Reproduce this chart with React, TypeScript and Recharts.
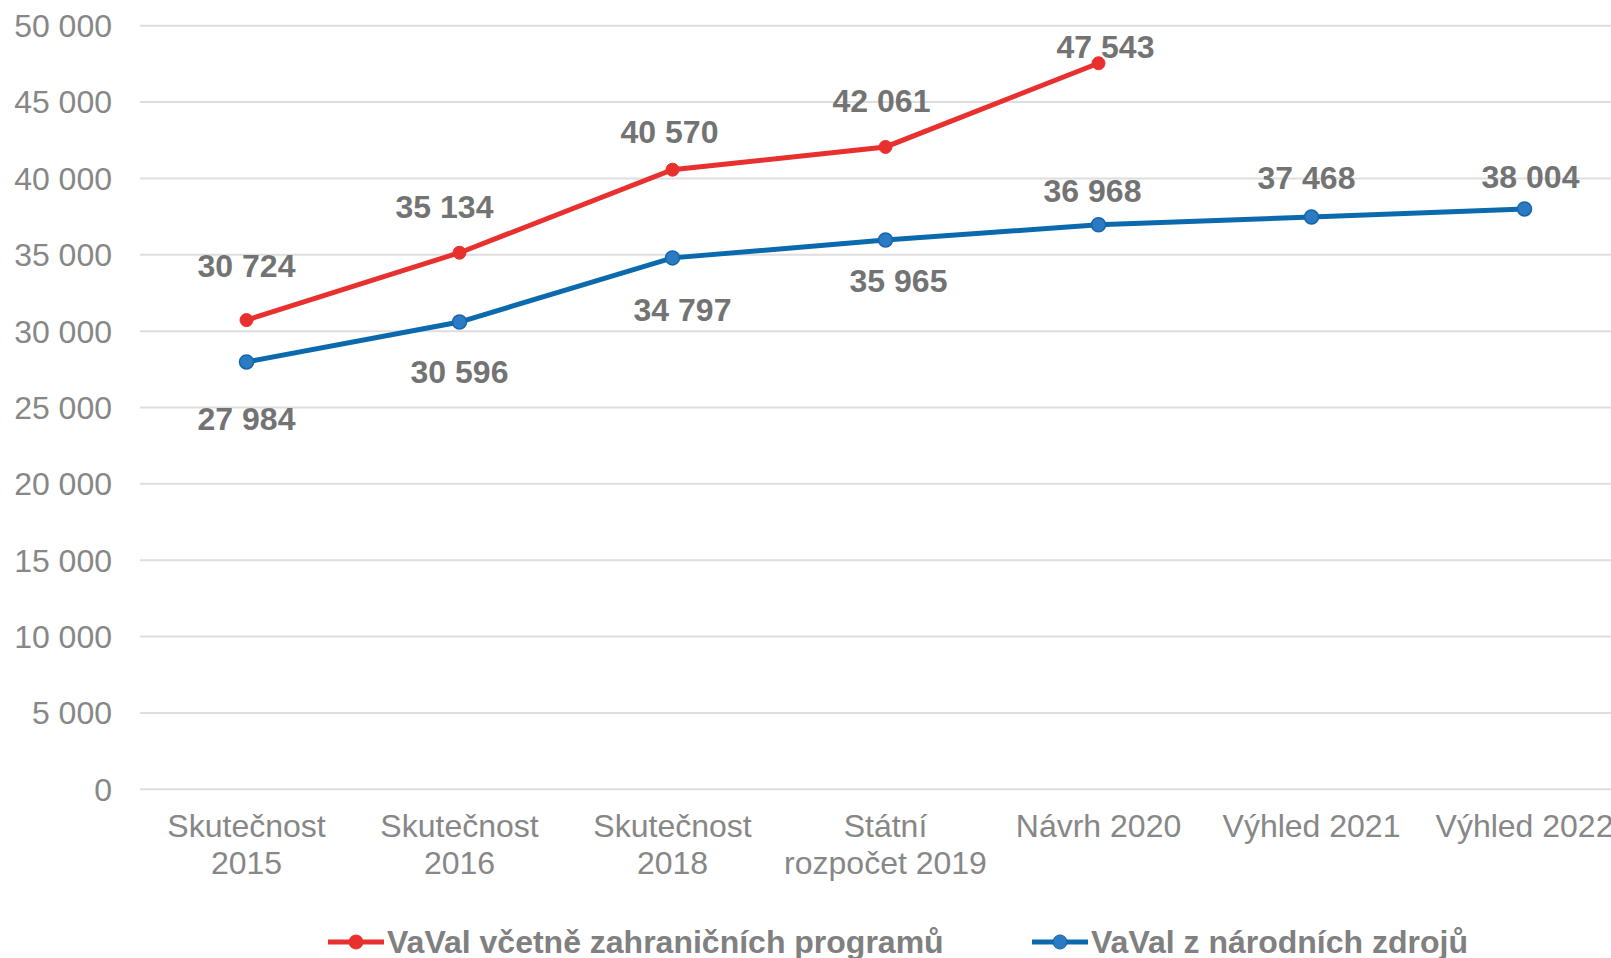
import React from 'react';
import { LineChart, Line, XAxis, YAxis, CartesianGrid, Legend, LabelList } from 'recharts';

const categories = [
  'Skutečnost\n2015',
  'Skutečnost\n2016',
  'Skutečnost\n2018',
  'Státní\nrozpočet 2019',
  'Návrh 2020',
  'Výhled 2021',
  'Výhled 2022',
];
const foreignSeries = [30724, 35134, 40570, 42061, 47543, null, null];
const nationalSeries = [27984, 30596, 34797, 35965, 36968, 37468, 38004];
const yTicks = [0, 5000, 10000, 15000, 20000, 25000, 30000, 35000, 40000, 45000, 50000];
const seriesNames = ['VaVal včetně zahraničních programů', 'VaVal z národních zdrojů'];

// label nudges relative to each point [dx, dy]
const redLabelOffsets = [[0, -55], [-15, -46], [-3, -38], [-4, -46], [7, -17]];
const blueLabelOffsets = [[0, 57], [0, 49], [10, 52], [13, 40], [-6, -34], [-5, -40], [6, -32]];

const data = categories.map((c, i) => ({
  cat: c,
  foreign: foreignSeries[i],
  national: nationalSeries[i],
}));

const FONT = '"Liberation Sans", Arial, sans-serif';
const RED = '#E8312F';
const BLUE_LINE = '#0B6AAE';
const BLUE_DOT = '#2B7BC4';

const fmt = (v: number) => String(v).replace(/\B(?=(\d{3})+(?!\d))/g, ' ');

const XTick = (props: any) => {
  const { x, y, payload } = props;
  const lines = String(payload.value).split('\n');
  return (
    <text x={x} y={y + 48} textAnchor="middle" fill="#878787" fontSize={32} fontFamily={FONT}>
      {lines.map((l, i) => (
        <tspan key={i} x={x} dy={i === 0 ? 0 : 37}>{l}</tspan>
      ))}
    </text>
  );
};

const makeLabel = (offsets: number[][]) => (props: any) => {
  const { x, y, value, index } = props;
  if (value == null || x == null || y == null) return null;
  const off = offsets[index] || [0, -30];
  return (
    <text
      x={x + off[0]}
      y={y + off[1]}
      dy="0.36em"
      textAnchor="middle"
      fill="#737373"
      fontSize={32}
      fontWeight="bold"
      fontFamily={FONT}
    >
      {fmt(value)}
    </text>
  );
};

const LegendContent = () => {
  const items = [
    { name: seriesNames[0], color: RED, dot: RED, stroke: RED, left: 328 },
    { name: seriesNames[1], color: BLUE_LINE, dot: BLUE_DOT, stroke: '#1565A8', left: 1032 },
  ];
  return (
    <div style={{ position: 'relative', height: 60, width: '100%' }}>
      {items.map((it, i) => (
        <div
          key={i}
          style={{
            position: 'absolute',
            left: it.left,
            top: 25.7,
            height: 36,
            display: 'flex',
            alignItems: 'center',
            whiteSpace: 'nowrap',
          }}
        >
          <svg width={56} height={20} style={{ display: 'block' }}>
            <line x1={0} y1={10} x2={56} y2={10} stroke={it.color} strokeWidth={5} />
            <circle cx={28} cy={10} r={7} fill={it.dot} stroke={it.stroke} strokeWidth={1} />
          </svg>
          <span
            style={{
              marginLeft: 3,
              fontFamily: FONT,
              fontWeight: 'bold',
              fontSize: 32,
              color: '#808080',
              lineHeight: '36px',
            }}
          >
            {it.name}
          </span>
        </div>
      ))}
    </div>
  );
};

export default function App() {
  return (
    <div
      style={{
        position: 'absolute',
        left: 0,
        top: 0,
        width: 1611,
        height: 958,
        overflow: 'hidden',
        background: '#ffffff',
      }}
    >
      <LineChart
        width={1640}
        height={958}
        data={data}
        margin={{ top: 25.7, right: 9, left: 0, bottom: 0 }}
      >
        <CartesianGrid vertical={false} stroke="#dedede" strokeWidth={2} />
        <XAxis
          dataKey="cat"
          height={108.7}
          axisLine={false}
          tickLine={false}
          tickSize={0}
          tickMargin={0}
          interval={0}
          padding={{ left: 106.5, right: 106.5 }}
          tick={<XTick />}
        />
        <YAxis
          width={140}
          domain={[0, 50000]}
          ticks={yTicks}
          axisLine={false}
          tickLine={false}
          tickSize={0}
          tickMargin={28}
          tickFormatter={fmt}
          tick={{ fill: '#878787', fontSize: 32, fontFamily: FONT }}
          interval={0}
        />
        <Legend verticalAlign="bottom" content={<LegendContent />} />
        <Line
          type="linear"
          dataKey="foreign"
          name={seriesNames[0]}
          stroke={RED}
          strokeWidth={5}
          dot={{ r: 6.5, fill: RED, stroke: RED, strokeWidth: 1 }}
          isAnimationActive={false}
        >
          <LabelList dataKey="foreign" content={makeLabel(redLabelOffsets)} />
        </Line>
        <Line
          type="linear"
          dataKey="national"
          name={seriesNames[1]}
          stroke={BLUE_LINE}
          strokeWidth={5}
          dot={{ r: 7, fill: BLUE_DOT, stroke: '#1565A8', strokeWidth: 1.5 }}
          isAnimationActive={false}
        >
          <LabelList dataKey="national" content={makeLabel(blueLabelOffsets)} />
        </Line>
      </LineChart>
    </div>
  );
}
